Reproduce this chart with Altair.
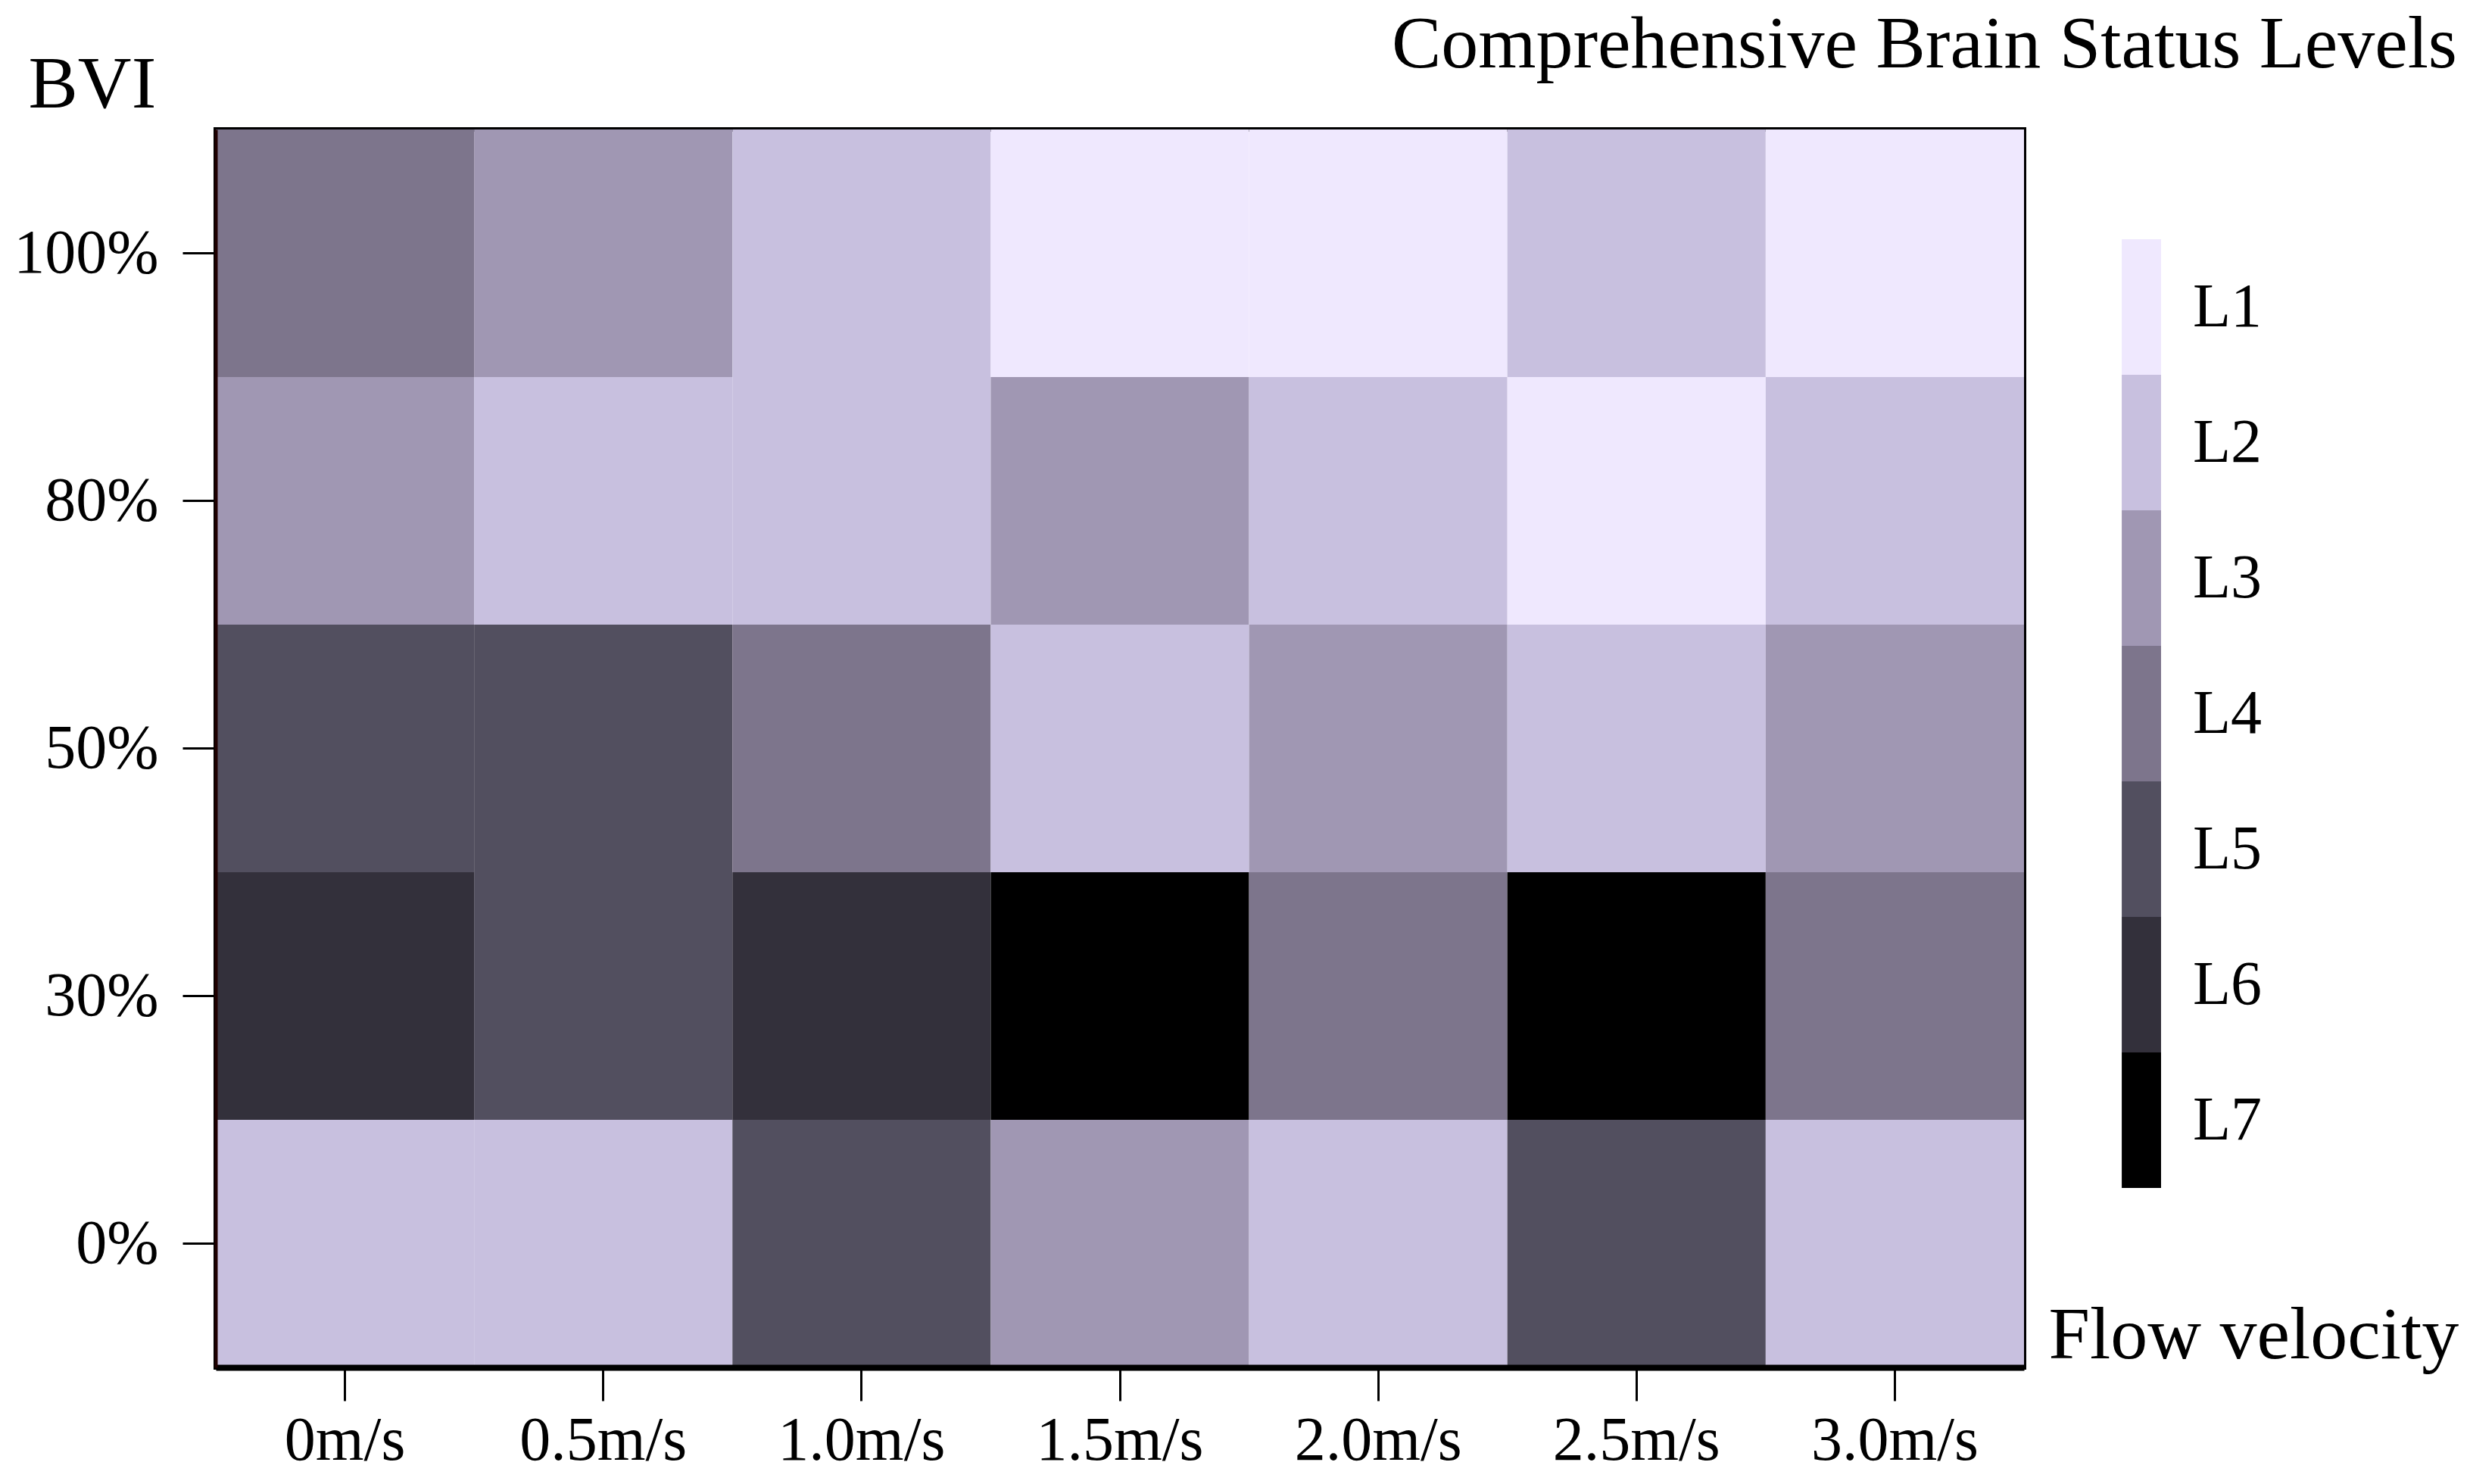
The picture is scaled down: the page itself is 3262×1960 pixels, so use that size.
import altair as alt
import pandas as pd

velocities = ["0m/s", "0.5m/s", "1.0m/s", "1.5m/s", "2.0m/s", "2.5m/s", "3.0m/s"]
bvi_levels = ["100%", "80%", "50%", "30%", "0%"]
row_100 = ["L4", "L3", "L2", "L1", "L1", "L2", "L1"]
row_80 = ["L3", "L2", "L2", "L3", "L2", "L1", "L2"]
row_50 = ["L5", "L5", "L4", "L2", "L3", "L2", "L3"]
row_30 = ["L6", "L5", "L6", "L7", "L4", "L7", "L4"]
row_0 = ["L2", "L2", "L5", "L3", "L2", "L5", "L2"]
level_names = ["L1", "L2", "L3", "L4", "L5", "L6", "L7"]
level_colors = ["#EFE8FE", "#C8C0DF", "#A097B3", "#7D758C", "#524F5F", "#33303B", "#000000"]

rows = [row_100, row_80, row_50, row_30, row_0]
records = []
for b, r in zip(bvi_levels, rows):
    for v, lv in zip(velocities, r):
        records.append({"velocity": v, "bvi": b, "level": lv})
df = pd.DataFrame(records)

FONT = "Liberation Serif"

chart = alt.Chart(df).mark_rect().encode(
    x=alt.X("velocity:O", sort=velocities,
            scale=alt.Scale(paddingInner=0, paddingOuter=0),
            axis=alt.Axis(title="Flow velocity", labelAngle=0, labelFontSize=82,
                          labelFont=FONT, labelColor="black", labelPadding=12,
                          labelLimit=600,
                          tickSize=44, tickWidth=3, tickColor="black",
                          domainWidth=8, domainColor="black",
                          titleFont=FONT, titleFontSize=98, titleFontWeight="normal",
                          titleColor="black", titleAlign="left", titleBaseline="alphabetic",
                          titleX=2420, titleY=-13, titleAngle=0)),
    y=alt.Y("bvi:O", sort=bvi_levels,
            scale=alt.Scale(paddingInner=0, paddingOuter=0),
            axis=alt.Axis(title="BVI", labelFontSize=82, labelFont=FONT,
                          labelColor="black", labelPadding=32, labelLimit=600,
                          tickSize=44, tickWidth=3, tickColor="black",
                          domainWidth=4, domainColor="#200000",
                          titleFont=FONT, titleFontSize=98, titleFontWeight="normal",
                          titleColor="black", titleAngle=0, titleAlign="left",
                          titleBaseline="alphabetic", titleX=-248, titleY=-30)),
    fill=alt.Fill("level:N",
                  scale=alt.Scale(domain=level_names, range=level_colors),
                  legend=alt.Legend(title=None, orient="none", legendX=2390, legendY=145,
                                    symbolType="M0.42,-1H1V1H0.42Z",
                                    symbolSize=32041, symbolStrokeWidth=0,
                                    symbolOpacity=1, rowPadding=0, padding=0,
                                    labelFont=FONT, labelFontSize=82,
                                    labelColor="black", labelOffset=42,
                                    labelLimit=400)),
).properties(
    width=2388,
    height=1635,
    background="white",
    title=alt.TitleParams("Comprehensive Brain Status Levels", font=FONT, fontSize=98,
                          fontWeight="normal", color="black", anchor="end",
                          frame="group", dx=572, dy=51),
    autosize=alt.AutoSizeParams(type="none"),
    padding={"left": 277, "top": 163, "right": 581, "bottom": 146},
).configure_view(
    stroke="black", strokeWidth=6
)

chart.save("out.html", embed_options={"renderer": "svg", "actions": False})
